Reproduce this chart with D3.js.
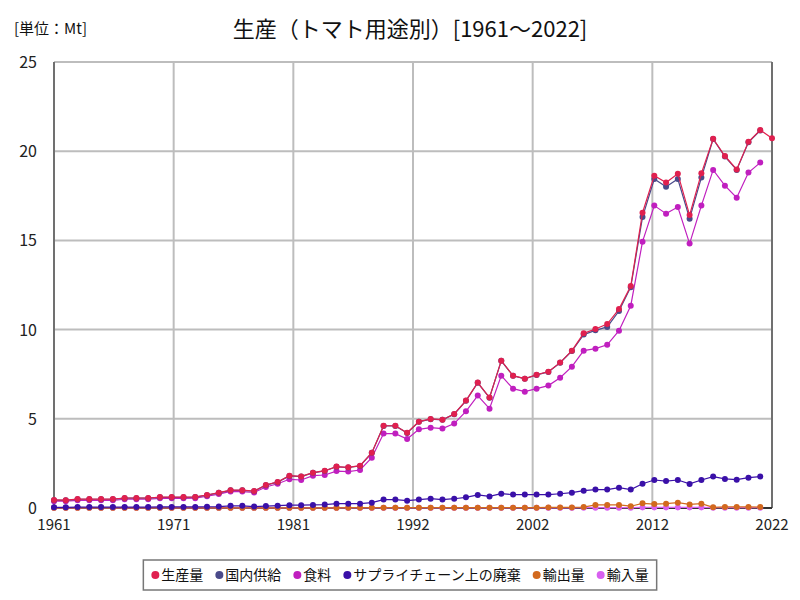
<!DOCTYPE html>
<html lang="ja">
<head>
<meta charset="utf-8">
<title>生産(トマト用途別)</title>
<script src="https://cdnjs.cloudflare.com/ajax/libs/d3/7.8.5/d3.min.js"></script>
<style>
  body { margin: 0; background: #fff; }
  text { font-family: "Noto Sans CJK JP", sans-serif; }
</style>
</head>
<body>
<div id="viz"></div>
<script>
// years on the x axis
const years = d3.range(1961, 2023);
const xTickLabels = ["1961", "1971", "1981", "1992", "2002", "2012", "2022"];
const yTicks = [0, 5, 10, 15, 20, 25];

const seriesNames = ["生産量", "国内供給", "食料", "サプライチェーン上の廃棄", "輸出量", "輸入量"];
const seriesColors = ["#e0204f", "#4a4a8a", "#c01fbf", "#3a10a8", "#d2691e", "#d860f0"];

// Mt, 1961..2022
const production = [
  0.45, 0.44, 0.50, 0.50, 0.50, 0.50, 0.56, 0.56, 0.56, 0.61,
  0.61, 0.61, 0.62, 0.73, 0.86, 1.00, 1.00, 0.95, 1.29, 1.46,
  1.81, 1.77, 1.98, 2.09, 2.32, 2.28, 2.37, 3.10, 4.61, 4.61,
  4.22, 4.84, 4.99, 4.95, 5.27, 6.02, 7.03, 6.19, 8.26, 7.42,
  7.25, 7.47, 7.64, 8.15, 8.82, 9.79, 10.03, 10.31, 11.15, 12.44,
  16.55, 18.63, 18.24, 18.74, 16.42, 18.76, 20.70, 19.73, 18.98, 20.53,
  21.19, 20.72
];
// 1961..2021
const domestic = [
  0.44, 0.43, 0.49, 0.49, 0.49, 0.49, 0.55, 0.55, 0.55, 0.60,
  0.60, 0.60, 0.61, 0.72, 0.85, 0.99, 0.99, 0.94, 1.28, 1.45,
  1.80, 1.76, 1.97, 2.08, 2.31, 2.27, 2.36, 3.09, 4.60, 4.60,
  4.21, 4.83, 4.98, 4.94, 5.26, 6.01, 7.02, 6.18, 8.25, 7.41,
  7.24, 7.46, 7.63, 8.14, 8.80, 9.72, 9.96, 10.15, 11.04, 12.38,
  16.31, 18.44, 18.01, 18.44, 16.22, 18.52, 20.68, 19.70, 18.95, 20.50,
  21.16
];
const food = [
  0.38, 0.38, 0.43, 0.43, 0.43, 0.43, 0.49, 0.49, 0.49, 0.54,
  0.54, 0.54, 0.55, 0.66, 0.78, 0.93, 0.92, 0.87, 1.18, 1.36,
  1.61, 1.57, 1.81, 1.85, 2.07, 2.04, 2.13, 2.82, 4.17, 4.17,
  3.87, 4.41, 4.50, 4.45, 4.73, 5.42, 6.30, 5.57, 7.42, 6.69,
  6.52, 6.69, 6.86, 7.30, 7.92, 8.82, 8.93, 9.15, 9.94, 11.34,
  14.93, 16.95, 16.50, 16.87, 14.82, 16.95, 18.95, 18.07, 17.39, 18.80,
  19.36
];
const waste = [
  0.04, 0.04, 0.05, 0.05, 0.05, 0.05, 0.05, 0.05, 0.05, 0.06,
  0.06, 0.06, 0.06, 0.07, 0.08, 0.12, 0.12, 0.08, 0.11, 0.13,
  0.16, 0.16, 0.17, 0.19, 0.24, 0.24, 0.24, 0.30, 0.47, 0.47,
  0.41, 0.47, 0.52, 0.47, 0.52, 0.60, 0.73, 0.65, 0.80, 0.75,
  0.75, 0.75, 0.75, 0.80, 0.86, 0.97, 1.03, 1.03, 1.14, 1.03,
  1.36, 1.57, 1.51, 1.57, 1.35, 1.57, 1.76, 1.63, 1.59, 1.70,
  1.76
];
const exportQty = [
  0.01, 0.01, 0.01, 0.01, 0.01, 0.01, 0.01, 0.01, 0.01, 0.01,
  0.01, 0.01, 0.01, 0.01, 0.01, 0.01, 0.01, 0.01, 0.01, 0.01,
  0.01, 0.01, 0.01, 0.01, 0.01, 0.02, 0.02, 0.02, 0.02, 0.02,
  0.02, 0.02, 0.02, 0.02, 0.02, 0.02, 0.02, 0.02, 0.02, 0.02,
  0.02, 0.02, 0.03, 0.03, 0.03, 0.05, 0.17, 0.17, 0.17, 0.10,
  0.26, 0.22, 0.24, 0.30, 0.20, 0.24, 0.04, 0.06, 0.06, 0.06,
  0.05
];
const importQty = [
  0.01, 0.01, 0.01, 0.01, 0.01, 0.01, 0.01, 0.01, 0.01, 0.01,
  0.01, 0.01, 0.01, 0.01, 0.01, 0.01, 0.01, 0.01, 0.01, 0.01,
  0.01, 0.01, 0.01, 0.01, 0.01, 0.01, 0.01, 0.01, 0.01, 0.01,
  0.01, 0.01, 0.01, 0.01, 0.01, 0.01, 0.01, 0.01, 0.01, 0.01,
  0.01, 0.01, 0.01, 0.01, 0.01, 0.02, 0.02, 0.02, 0.02, 0.02,
  0.03, 0.03, 0.03, 0.03, 0.03, 0.03, 0.02, 0.02, 0.02, 0.02,
  0.02
];
const allSeries = [production, domestic, food, waste, exportQty, importQty];

const width = 800, height = 600;
const plotLeft = 54, plotRight = 772, plotTop = 62, plotBottom = 508;

const svg = d3.select("#viz").append("svg")
  .attr("width", width)
  .attr("height", height);

const x = d3.scaleLinear().domain([1961, 2022]).range([plotLeft, plotRight]);
const y = d3.scaleLinear().domain([0, 25]).range([plotBottom, plotTop]);

// grid
const xGrid = d3.range(xTickLabels.length).map(i => 1961 + i * (2022 - 1961) / (xTickLabels.length - 1));
svg.append("g").selectAll("line").data(yTicks).enter().append("line")
  .attr("x1", plotLeft).attr("x2", plotRight)
  .attr("y1", d => y(d)).attr("y2", d => y(d))
  .attr("stroke", "#bdbdbd").attr("stroke-width", 2);
svg.append("g").selectAll("line").data(xGrid).enter().append("line")
  .attr("x1", d => x(d)).attr("x2", d => x(d))
  .attr("y1", plotTop).attr("y2", plotBottom)
  .attr("stroke", "#bdbdbd").attr("stroke-width", 2);

// frame
svg.append("line").attr("x1", plotLeft).attr("x2", plotLeft).attr("y1", plotTop).attr("y2", plotBottom)
  .attr("stroke", "#707070").attr("stroke-width", 2);
svg.append("line").attr("x1", plotRight).attr("x2", plotRight).attr("y1", plotTop).attr("y2", plotBottom)
  .attr("stroke", "#707070").attr("stroke-width", 2);
svg.append("line").attr("x1", plotLeft).attr("x2", plotRight).attr("y1", plotBottom).attr("y2", plotBottom)
  .attr("stroke", "#333").attr("stroke-width", 2);

// axis labels
svg.append("g").selectAll("text").data(yTicks).enter().append("text")
  .attr("x", 37).attr("y", d => y(d) + 6)
  .attr("text-anchor", "end")
  .attr("font-size", 16).attr("fill", "#222")
  .text(d => d);
svg.append("g").selectAll("text").data(xGrid).enter().append("text")
  .attr("x", d => x(d)).attr("y", 530)
  .attr("text-anchor", "middle")
  .attr("font-size", 15).attr("fill", "#222")
  .text((d, i) => xTickLabels[i]);

// series, drawn back to front
const line = d3.line()
  .defined(d => d != null)
  .x((d, i) => x(years[i]))
  .y(d => y(d));

for (let s = allSeries.length - 1; s >= 0; s--) {
  const g = svg.append("g");
  g.append("path")
    .attr("d", line(allSeries[s]))
    .attr("fill", "none")
    .attr("stroke", seriesColors[s])
    .attr("stroke-width", 1.2);
  g.selectAll("circle").data(allSeries[s]).enter().append("circle")
    .attr("cx", (d, i) => x(years[i]))
    .attr("cy", d => y(d))
    .attr("r", 3)
    .attr("fill", seriesColors[s]);
}

// titles
svg.append("text")
  .attr("x", 410).attr("y", 37)
  .attr("text-anchor", "middle")
  .attr("font-size", 22).attr("fill", "#111")
  .text("生産（トマト用途別）[1961～2022]");
svg.append("text")
  .attr("x", 14).attr("y", 34)
  .attr("font-size", 15).attr("fill", "#111")
  .text("[単位：Mt]");

// legend
const legend = svg.append("g");
const box = legend.append("rect")
  .attr("y", 560).attr("height", 30)
  .attr("fill", "#fff").attr("stroke", "#777").attr("stroke-width", 1.5);
let lx = 0;
const items = [];
seriesNames.forEach((name, i) => {
  const it = legend.append("g");
  it.append("circle").attr("cx", lx + 4).attr("cy", 575).attr("r", 4).attr("fill", seriesColors[i]);
  const t = it.append("text").attr("x", lx + 10).attr("y", 580)
    .attr("font-size", 14).attr("fill", "#111").text(name);
  lx += 10 + t.node().getComputedTextLength() + 12;
  items.push(it);
});
const totalW = lx - 12;
const startX = 400 - totalW / 2;
items.forEach(it => it.attr("transform", `translate(${startX},0)`));
box.attr("x", startX - 8).attr("width", totalW + 16);
</script>
</body>
</html>
